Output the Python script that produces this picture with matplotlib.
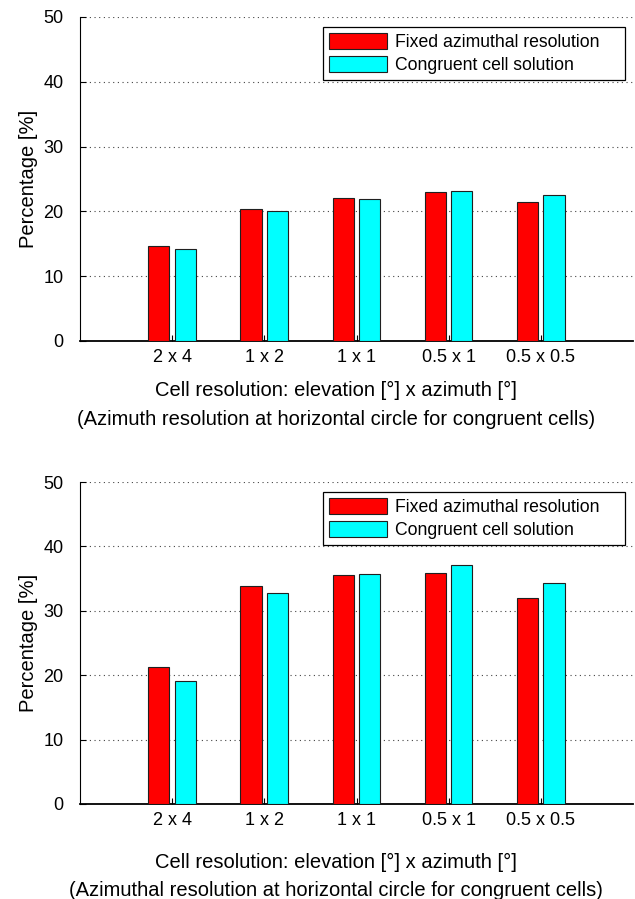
import numpy as np
import matplotlib
matplotlib.use("Agg")
from matplotlib import pyplot as plt

plt.rcParams['font.family'] = ['Liberation Sans', 'DejaVu Sans']
plt.rcParams['font.size'] = 13

categories = ["2 x 4", "1 x 2", "1 x 1", "0.5 x 1", "0.5 x 0.5"]
series_names = ["Fixed azimuthal resolution", "Congruent cell solution"]

# top panel
top_fixed = [14.6, 20.4, 22.0, 23.0, 21.5]
top_congruent = [14.15, 20.0, 21.9, 23.2, 22.5]
top_xlabel = "Cell resolution: elevation [°] x azimuth [°]\n(Azimuth resolution at horizontal circle for congruent cells)"

# bottom panel
bot_fixed = [21.3, 33.9, 35.5, 35.9, 32.0]
bot_congruent = [19.1, 32.75, 35.65, 37.05, 34.3]
bot_xlabel = "Cell resolution: elevation [°] x azimuth [°]\n(Azimuthal resolution at horizontal circle for congruent cells)"

colors = ["#ff0000", "#00ffff"]


def draw(ax, fixed, congruent, xlabel, labelpad, spacing):
    x = np.arange(1, len(categories) + 1)
    w = 0.23
    ax.bar(x - 0.145, fixed, w, color=colors[0], edgecolor="#202020", linewidth=0.8,
           label=series_names[0], zorder=3)
    ax.bar(x + 0.142, congruent, w, color=colors[1], edgecolor="#202020", linewidth=0.8,
           label=series_names[1], zorder=3)
    ax.set_xlim(0, 6)
    ax.set_ylim(0, 50)
    ax.set_xticks(x)
    ax.set_xticklabels(categories)
    ax.set_yticks([0, 10, 20, 30, 40, 50])
    ax.tick_params(direction="in", length=4, width=0.8, labelsize=13)
    ax.tick_params(axis="x", pad=6)
    ax.tick_params(axis="y", pad=12)
    ax.spines["top"].set_visible(False)
    ax.spines["right"].set_visible(False)
    ax.spines["bottom"].set_linewidth(1.3)
    ax.spines["left"].set_linewidth(0.8)
    ax.yaxis.grid(True, linestyle=(0, (1, 3.2)), color="#444444", linewidth=0.8)
    ax.set_axisbelow(True)
    ax.set_ylabel("Percentage [%]", fontsize=14.5, labelpad=4)
    ax.set_xlabel(xlabel, fontsize=14.5, labelpad=labelpad, linespacing=spacing)
    # the reference centres the x label a bit left of the axes centre
    ax.xaxis.label.set_x(0.463)
    leg = ax.legend(loc="upper left", bbox_to_anchor=(0.4394, 0.805, 0.546, 0.164),
                    mode="expand", fancybox=False, framealpha=1, edgecolor="black",
                    fontsize=12.7, borderpad=0.35, handlelength=3.3, handleheight=0.97,
                    handletextpad=0.45, labelspacing=0.3, borderaxespad=0)
    leg.get_frame().set_linewidth(0.9)


fig = plt.figure(figsize=(6.35, 8.99), dpi=100)
ax1 = fig.add_axes([0.126, 0.6207, 0.871, 0.3604])
ax2 = fig.add_axes([0.126, 0.1057, 0.871, 0.3581])
draw(ax1, top_fixed, top_congruent, top_xlabel, 10.5, 1.7)
draw(ax2, bot_fixed, bot_congruent, bot_xlabel, 17, 1.6)

fig.savefig("out.png", dpi=100)
